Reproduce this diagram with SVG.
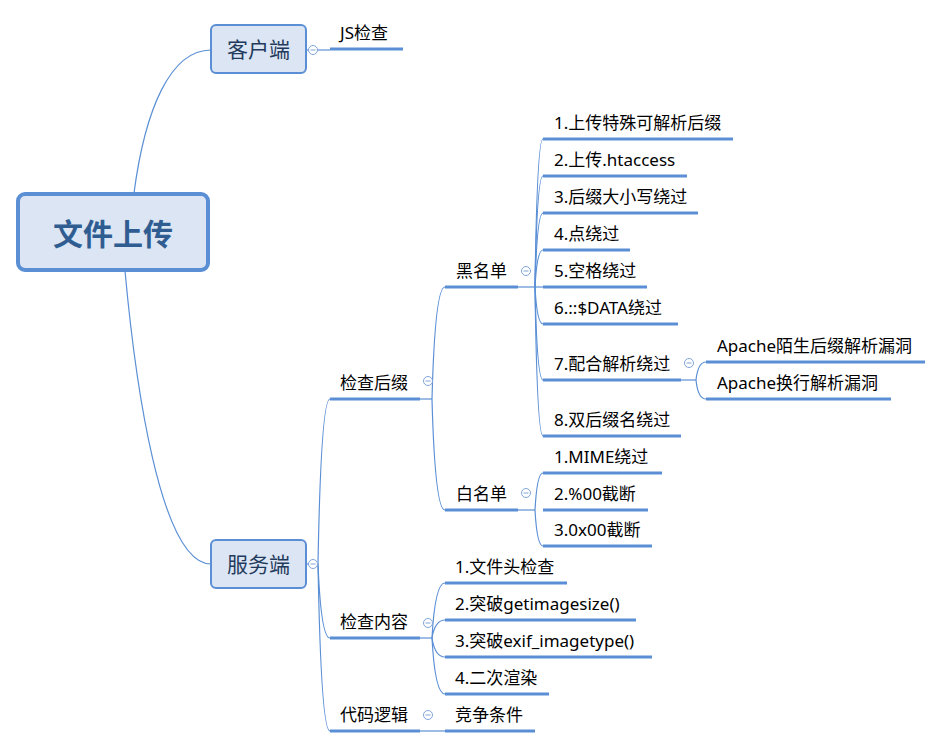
<svg xmlns="http://www.w3.org/2000/svg" width="943" height="748" viewBox="0 0 943 748">
<style>
text{font-family:"Noto Sans","Noto Sans CJK SC",sans-serif;font-size:17px;fill:#000}
.ul{stroke:#5b8fd5;stroke-width:3;fill:none}
.cn{stroke:#5b8fd5;stroke-width:1.2;fill:none}
.box{fill:#dbe5f3;stroke:#5b8fd5;stroke-width:2}
.root{fill:#dbe5f3;stroke:#5b8fd5;stroke-width:4}
.rt{font-size:30px;font-weight:bold;fill:#2f5d91}
.bt{font-size:21px;fill:#1f3a5c}
.tg circle{fill:#fff;stroke:#7fa5da;stroke-width:1}
.tg line{stroke:#7fa5da;stroke-width:1}
</style>
<defs>
<g id="tog" class="tg"><circle r="4.5"/><line x1="-2.5" y1="0" x2="2.5" y2="0"/></g>
</defs>
<g id="connectors">
<path class="cn" d="M134,193 C145,110 170,50 211,50"/>
<path class="cn" d="M125,271 C135,380 160,564 211,564"/>
<path class="cn" d="M306,50 L330,50"/>
<path class="cn" d="M306,564 L318,564"/>
<path class="cn" d="M318,564 Q321,399 330,399"/>
<path class="cn" d="M318,564 Q321,638 330,638"/>
<path class="cn" d="M318,564 Q321,731 330,731"/>
<path class="cn" d="M420,399 L432,399"/>
<path class="cn" d="M432,399 Q435,287 445,287"/>
<path class="cn" d="M432,399 Q435,510 445,510"/>
<path class="cn" d="M518,287 L535,287"/>
<path class="cn" d="M535,287 Q537,139 543,139"/>
<path class="cn" d="M535,287 Q537,176 543,176"/>
<path class="cn" d="M535,287 Q537,213 543,213"/>
<path class="cn" d="M535,287 Q537,250 543,250"/>
<path class="cn" d="M535,287 L543,287"/>
<path class="cn" d="M535,287 Q537,324 543,324"/>
<path class="cn" d="M535,287 Q537,380 543,380"/>
<path class="cn" d="M535,287 Q537,436 543,436"/>
<path class="cn" d="M518,510 L535,510"/>
<path class="cn" d="M535,510 Q537,473 543,473"/>
<path class="cn" d="M535,510 Q537,546 543,546"/>
<path class="cn" d="M681,380 L696,380"/>
<path class="cn" d="M696,380 Q698,362 706,362"/>
<path class="cn" d="M696,380 Q698,399 706,399"/>
<path class="cn" d="M420,638 L432,638"/>
<path class="cn" d="M432,638 Q435,583 445,583"/>
<path class="cn" d="M432,638 Q435,620 445,620"/>
<path class="cn" d="M432,638 Q435,657 445,657"/>
<path class="cn" d="M432,638 Q435,694 445,694"/>
<path class="cn" d="M420,731 L445,731"/>
</g>
<g id="root"><rect class="root" x="18" y="194" width="190" height="76" rx="7"/><text class="rt" x="113" y="245" text-anchor="middle">文件上传</text></g>
<g id="client"><rect class="box" x="211" y="25" width="95" height="48" rx="5"/><text class="bt" x="258.5" y="57" text-anchor="middle">客户端</text><use href="#tog" x="313" y="50"/></g>
<g id="server"><rect class="box" x="211" y="540" width="95" height="48" rx="5"/><text class="bt" x="258.5" y="572" text-anchor="middle">服务端</text><use href="#tog" x="313" y="564"/></g>
<g id="js"><line class="ul" x1="330" y1="49" x2="403" y2="49"/><text x="340" y="39">JS检查</text></g>
<g id="suffix"><line class="ul" x1="330" y1="399" x2="420" y2="399"/><text x="340" y="389">检查后缀</text><use href="#tog" x="428" y="381"/></g>
<g id="content"><line class="ul" x1="330" y1="638" x2="420" y2="638"/><text x="340" y="628">检查内容</text><use href="#tog" x="428" y="623"/></g>
<g id="logic"><line class="ul" x1="330" y1="731" x2="420" y2="731"/><text x="340" y="721">代码逻辑</text><use href="#tog" x="428" y="715"/></g>
<g id="black"><line class="ul" x1="445" y1="287" x2="518" y2="287"/><text x="456" y="277">黑名单</text><use href="#tog" x="526" y="271"/></g>
<g id="white"><line class="ul" x1="445" y1="510" x2="518" y2="510"/><text x="456" y="500">白名单</text><use href="#tog" x="526" y="493"/></g>
<g id="b1"><line class="ul" x1="543" y1="139" x2="733" y2="139"/><text x="554" y="129">1.上传特殊可解析后缀</text></g>
<g id="b2"><line class="ul" x1="543" y1="176" x2="687" y2="176"/><text x="554" y="166">2.上传.htaccess</text></g>
<g id="b3"><line class="ul" x1="543" y1="213" x2="698" y2="213"/><text x="554" y="203">3.后缀大小写绕过</text></g>
<g id="b4"><line class="ul" x1="543" y1="250" x2="630" y2="250"/><text x="554" y="240">4.点绕过</text></g>
<g id="b5"><line class="ul" x1="543" y1="287" x2="647" y2="287"/><text x="554" y="277">5.空格绕过</text></g>
<g id="b6"><line class="ul" x1="543" y1="324" x2="678" y2="324"/><text x="554" y="314">6.::$DATA绕过</text></g>
<g id="b7"><line class="ul" x1="543" y1="380" x2="681" y2="380"/><text x="554" y="370">7.配合解析绕过</text><use href="#tog" x="689" y="363"/></g>
<g id="b8"><line class="ul" x1="543" y1="436" x2="681" y2="436"/><text x="554" y="426">8.双后缀名绕过</text></g>
<g id="a1"><line class="ul" x1="706" y1="362" x2="925" y2="362"/><text x="717" y="352">Apache陌生后缀解析漏洞</text></g>
<g id="a2"><line class="ul" x1="706" y1="399" x2="891" y2="399"/><text x="717" y="389">Apache换行解析漏洞</text></g>
<g id="w1"><line class="ul" x1="543" y1="473" x2="662" y2="473"/><text x="554" y="463">1.MIME绕过</text></g>
<g id="w2"><line class="ul" x1="543" y1="510" x2="648" y2="510"/><text x="554" y="500">2.%00截断</text></g>
<g id="w3"><line class="ul" x1="543" y1="546" x2="652" y2="546"/><text x="554" y="536">3.0x00截断</text></g>
<g id="c1"><line class="ul" x1="445" y1="583" x2="567" y2="583"/><text x="455" y="573">1.文件头检查</text></g>
<g id="c2"><line class="ul" x1="445" y1="620" x2="636" y2="620"/><text x="455" y="610">2.突破getimagesize()</text></g>
<g id="c3"><line class="ul" x1="445" y1="657" x2="652" y2="657"/><text x="455" y="647">3.突破exif_imagetype()</text></g>
<g id="c4"><line class="ul" x1="445" y1="694" x2="549" y2="694"/><text x="455" y="684">4.二次渲染</text></g>
<g id="race"><line class="ul" x1="445" y1="731" x2="535" y2="731"/><text x="455" y="721">竞争条件</text></g>
</svg>
